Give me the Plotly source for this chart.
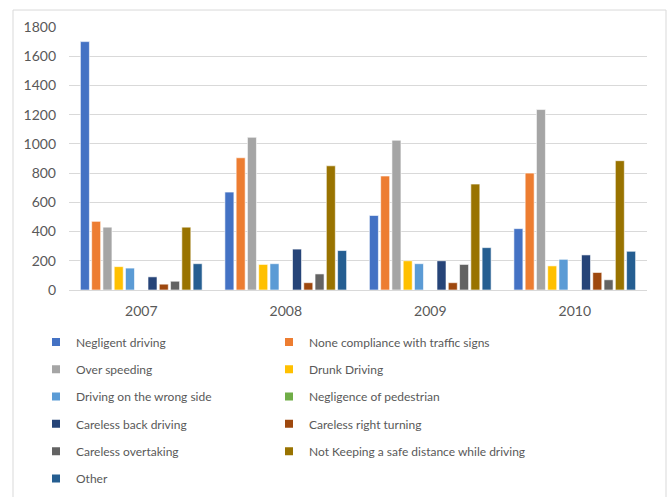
import plotly.graph_objects as go

years = ["2007", "2008", "2009", "2010"]
causes = [
    "Negligent driving",
    "None compliance with traffic signs",
    "Over speeding",
    "Drunk Driving",
    "Driving on the wrong side",
    "Negligence of pedestrian",
    "Careless back driving",
    "Careless right turning",
    "Careless overtaking",
    "Not Keeping a safe distance while driving",
    "Other",
]
colors = ["#4472C4", "#ED7D31", "#A5A5A5", "#FFC000", "#5B9BD5", "#70AD47",
          "#264478", "#9E480E", "#636363", "#997300", "#255E91"]

negligent = [1700, 670, 510, 420]
none_compliance = [470, 905, 780, 800]
over_speeding = [430, 1045, 1025, 1235]
drunk = [160, 175, 200, 165]
wrong_side = [150, 180, 180, 210]
pedestrian = [0, 0, 0, 0]
back_driving = [90, 280, 200, 240]
right_turning = [40, 50, 50, 120]
overtaking = [60, 110, 175, 70]
safe_distance = [430, 850, 725, 885]
other = [180, 270, 290, 265]

series = [negligent, none_compliance, over_speeding, drunk, wrong_side, pedestrian,
          back_driving, right_turning, overtaking, safe_distance, other]

FONT = "Lato"
fig = go.Figure()
for name, vals, col in zip(causes, series, colors):
    fig.add_trace(go.Bar(x=years, y=vals, name=name, marker_color=col,
                         marker_line=dict(color="white", width=0.6),
                         showlegend=False, hoverinfo="x+y+name"))

for i, (name, col) in enumerate(zip(causes, colors)):
    fig.add_trace(go.Scatter(x=[None], y=[None], mode="markers", name=name,
                             marker=dict(symbol="square", size=8, color=col),
                             legend="legend" if i % 2 == 0 else "legend2",
                             legendgroup=name))

W, H = 669, 497
L, R, T, B = 69, 22, 27, 206.5
pw, ph = W - L - R, H - T - B

def px(x):
    return (x - L) / pw

def py(y):
    return (H - B - y) / ph

fig.add_shape(type="rect", xref="paper", yref="paper",
              x0=px(13), x1=px(666), y0=py(520), y1=py(10),
              line=dict(color="#D9D9D9", width=1), layer="below")

legend_common = dict(
    orientation="v", xanchor="left", yanchor="top",
    font=dict(family=FONT, size=12, color="#595959"), bgcolor="rgba(0,0,0,0)",
    traceorder="grouped", tracegroupgap=8.3, itemsizing="trace",
)
fig.update_layout(
    width=W, height=H,
    margin=dict(l=L, r=R, t=T, b=B, pad=0, autoexpand=False),
    paper_bgcolor="white", plot_bgcolor="white",
    barmode="group", bargap=0.142, bargroupgap=0.2,
    font=dict(family=FONT, size=13, color="#595959"),
    xaxis=dict(type="category", showgrid=False, showline=True, linecolor="#D9D9D9",
               linewidth=1, ticks="", ticklabelstandoff=8, automargin=False,
               tickfont=dict(family=FONT, size=14, color="#595959")),
    yaxis=dict(range=[0, 1800], dtick=200, showgrid=True, gridcolor="#D9D9D9",
               gridwidth=1, zeroline=False, showline=False, ticks="",
               ticklabelstandoff=12, automargin=False,
               tickfont=dict(family=FONT, size=14, color="#595959")),
    legend=dict(x=px(36), y=py(328), **legend_common),
    legend2=dict(x=px(269), y=py(328), **legend_common),
)

fig.write_html("out.html")
